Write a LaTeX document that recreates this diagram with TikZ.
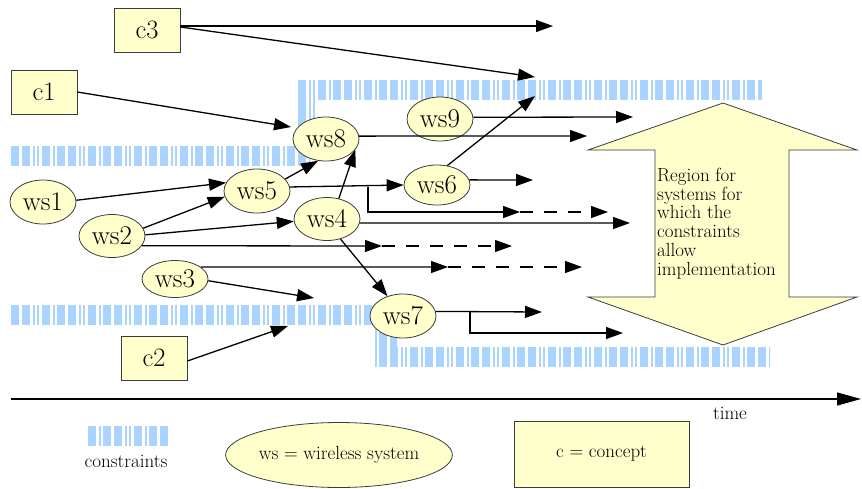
\documentclass[tikz,border=0pt]{standalone}
\usetikzlibrary{arrows.meta,shapes.geometric}
\pgfdeclarelayer{bg}
\pgfsetlayers{bg,main}
\definecolor{nodeyel}{RGB}{255,255,204}
\definecolor{cblue}{RGB}{170,212,255}
\definecolor{edgegray}{RGB}{60,60,60}
\newcommand\cstripes[4]{%
  \begin{scope}
  \clip (#1,#2) rectangle (#3,#4);
  \foreach \k in {0,...,18}{
    \pgfmathsetmacro\bx{11+46*\k}
    \fill[cblue] (\bx,#2) rectangle (\bx+8,#4);
    \fill[cblue] (\bx+11,#2) rectangle (\bx+19,#4);
    \fill[cblue] (\bx+22,#2) rectangle (\bx+24,#4);
    \fill[cblue] (\bx+26,#2) rectangle (\bx+28,#4);
    \fill[cblue] (\bx+31,#2) rectangle (\bx+39,#4);
    \fill[cblue] (\bx+42,#2) rectangle (\bx+44,#4);
  }
  \end{scope}}
\tikzset{
  ws/.style={ellipse, draw=edgegray, line width=0.8pt, fill=nodeyel,
    minimum width=66pt, minimum height=44pt, inner sep=0pt,
    font=\fontsize{27}{29}\selectfont},
  cbox/.style={rectangle, draw=edgegray, line width=0.8pt, fill=nodeyel,
    minimum width=66pt, minimum height=44pt, inner sep=0pt,
    font=\fontsize{26.5}{29}\selectfont},
  arr/.style={line width=1.3pt, -{Triangle[length=17pt,width=12pt]}},
  darr/.style={arr, dash pattern=on 13pt off 11pt},
  legtext/.style={font=\fontsize{19}{21}\selectfont},
}
\begin{document}
\begin{tikzpicture}[x=1pt,y=-1pt]
\useasboundingbox (0,0) rectangle (862,488);
% constraint bands
\begin{pgfonlayer}{bg}
  \cstripes{11}{146}{310}{166}
  \cstripes{295}{100}{317}{146}
  \cstripes{295}{80}{762}{100}
  \cstripes{11}{305}{378}{325}
  \cstripes{375}{325}{397}{347}
  \cstripes{375}{347}{770}{367}
  \cstripes{85}{426}{171}{446}
\end{pgfonlayer}
% big double arrow
\draw[fill=nodeyel, draw=edgegray, line width=0.8pt]
  (723,103) -- (857,150) -- (789,150) -- (789,297) -- (857,297) -- (723,345)
  -- (588,297) -- (655,297) -- (655,150) -- (588,150) -- cycle;
\node[anchor=north west, inner sep=0pt, align=left,
  font=\fontsize{19}{18.7}\selectfont] (rtext) at (657,168)
  {Region for\\systems for\\which the\\constraints\\allow\\implementation};
% concept boxes
\node[cbox] (c3) at (147,30) {c3};
\node[cbox] (c1) at (44,92) {c1};
\node[cbox] (c2) at (154,358) {c2};
% wireless systems
\node[ws] (ws1) at (43,202) {ws1};
\node[ws, minimum height=43pt] (ws2) at (112,236) {ws2};
\node[ws, minimum height=37pt] (ws3) at (175,279) {ws3};
\node[ws] (ws5) at (257,191) {ws5};
\node[ws, minimum height=43pt] (ws4) at (327,219) {ws4};
\node[ws] (ws8) at (326,139) {ws8};
\node[ws] (ws9) at (440,119) {ws9};
\node[ws, minimum height=40pt] (ws6) at (437,185) {ws6};
\node[ws] (ws7) at (403,316) {ws7};
% free ends
\coordinate (t1) at (553,26);
\coordinate (t2) at (535,77);
\coordinate (t3) at (291,127);
\coordinate (t4) at (382,246);
\coordinate (t5) at (512,246);
\coordinate (t6) at (448,267);
\coordinate (t7) at (582,267);
\coordinate (t8) at (314,298);
\coordinate (t9) at (288,326);
\coordinate (b1) at (368,187);
\coordinate (t10) at (520,212);
\coordinate (t11) at (608,212);
\coordinate (t12) at (630,223);
\coordinate (t13) at (542,312);
\coordinate (b2) at (470,312);
\coordinate (t14) at (623,333);
\coordinate (t15) at (587,136);
\coordinate (t16) at (633,117);
\coordinate (t17) at (535,96);
\coordinate (t18) at (533,180);
% connectors
\draw[arr] ([yshift=4pt]c3.east) -- (t1);
\draw[arr] ([yshift=3pt]c3.east) -- (t2);
\draw[arr] (c1.east) -- (t3);
\draw[arr] (ws1.3) -- (ws5.165);
\draw[arr] (ws2.14) -- (ws5.190);
\draw[arr] (ws2.2) -- (ws4.184);
\draw[arr] (ws2.-18) -- (t4);
\draw[darr] (t4) -- (t5);
\draw[arr] (ws3.25) -- (t6);
\draw[darr] (t6) -- (t7);
\draw[arr] (ws3.-3) -- (t8);
\draw[arr] ([yshift=-3pt]c2.east) -- (t9);
\draw[arr] (ws5.23) -- (ws8.250);
\draw[arr] (ws4.60) -- (ws8.-20);
\draw[arr] (ws5.7) -- (ws6.west);
\draw[arr] (b1) |- (t10);
\draw[darr] (t10) -- (t11);
\draw[arr] (ws4.-7) -- (t12);
\draw[arr] (ws4.-56) -- (ws7.128);
\draw[arr] (ws7.8) -- (t13);
\draw[arr] (b2) |- (t14);
\draw[arr] (ws8.5) -- (t15);
\draw[arr] (ws9.3) -- (t16);
\draw[arr] (ws6.62) -- (t17);
\draw[arr] (ws6.9) -- (t18);
% time axis
\coordinate (ta) at (11,399);
\coordinate (tb) at (861,399);
\draw[line width=1.3pt, -{Triangle[length=24pt,width=13pt]}] (ta) -- (tb);
\node[legtext] (time) at (730,413) {time};
% legend
\node[legtext] (clab) at (126,461) {constraints};
\node[ellipse, draw=edgegray, line width=0.8pt, fill=nodeyel,
  minimum width=218pt, minimum height=65pt, inner sep=0pt, legtext]
  (legws) at (339,455) {ws = wireless system};
\node[rectangle, draw=edgegray, line width=0.8pt, fill=nodeyel,
  minimum width=175pt, minimum height=66pt, inner sep=0pt, legtext]
  (legc) at (601.5,454) {c = concept};
\end{tikzpicture}
\end{document}
